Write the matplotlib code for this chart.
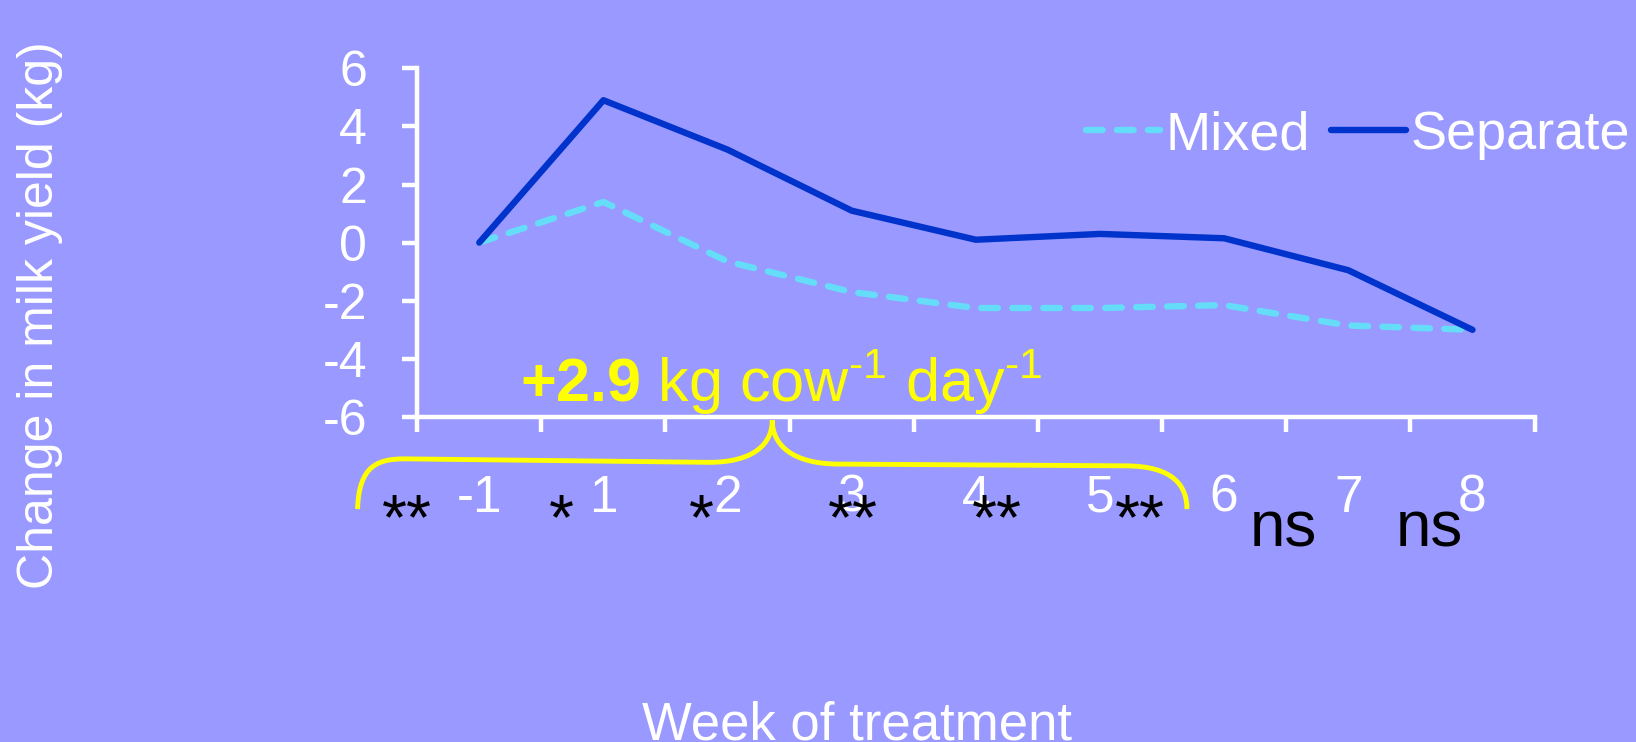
import numpy as np
import matplotlib.pyplot as plt
from matplotlib.path import Path
from matplotlib.patches import PathPatch
import matplotlib.transforms as mtransforms

# data
weeks = ["-1", "1", "2", "3", "4", "5", "6", "7", "8"]
mixed = [0.0, 1.4, -0.65, -1.7, -2.25, -2.25, -2.15, -2.85, -3.0]
separate = [0.0, 4.9, 3.2, 1.1, 0.1, 0.3, 0.15, -0.95, -3.0]
signif = ["**", "*", "*", "**", "**", "**", "ns", "ns"]

bg = "#9999FF"
plt.rcParams["font.family"] = ["Liberation Sans", "DejaVu Sans"]
plt.rcParams["mathtext.fontset"] = "custom"
plt.rcParams["mathtext.rm"] = "Liberation Sans"
plt.rcParams["mathtext.bf"] = "Liberation Sans:bold"

fig = plt.figure(figsize=(16.36, 7.42), dpi=100, facecolor=bg)
ax = fig.add_axes([0.255, 0.438, 0.683, 0.470])
ax.set_facecolor(bg)

x = np.arange(len(weeks))
ax.plot(x, mixed, color="#66DDF8", lw=4.6, linestyle=(0, (2.6, 2.25)),
        dash_capstyle="round", dash_joinstyle="round", label="Mixed")
ax.plot(x, separate, color="#0033CC", lw=4.6, solid_capstyle="round",
        solid_joinstyle="round", label="Separate")

ax.set_xlim(-0.5, len(weeks) - 0.5)
ax.set_ylim(-6, 6)
ax.set_yticks(range(-6, 7, 2))
ax.set_yticklabels([str(v) for v in range(-6, 7, 2)])
ax.set_xticks(x)
ax.set_xticklabels(weeks)
ax.set_xticks(np.arange(-0.5, len(weeks)), minor=True)

for s in ["top", "right"]:
    ax.spines[s].set_visible(False)
for s in ["left", "bottom"]:
    ax.spines[s].set_color("white")
    ax.spines[s].set_linewidth(3.2)
ax.tick_params(axis="y", colors="white", labelsize=36, length=11, width=3.2, pad=25)
ax.tick_params(axis="x", which="major", colors="white", labelsize=37, length=0, pad=41)
ax.tick_params(axis="x", which="minor", colors="white", length=11, width=3.2)

leg = ax.legend(ncol=2, frameon=False, loc="center right",
                bbox_to_anchor=(1630 / 1636, 1 - 135 / 742),
                bbox_transform=fig.transFigure, fontsize=39,
                handlelength=1.38, handletextpad=0.09, columnspacing=0.39,
                borderpad=0, borderaxespad=0)
for t in leg.get_texts():
    t.set_color("white")

fig.text(40 / 1636, 1 - 315 / 742, "Change in milk yield (kg)", rotation=90,
         ha="center", va="center", color="white", fontsize=36)
fig.text(857 / 1636, 3 / 742, "Week of treatment", ha="center",
         va="baseline", color="white", fontsize=38)

# difference annotation
ax.text(0.33, -5.5, r"$\mathbf{+2.9}$ kg cow$^{\text{-}1}$ day$^{\text{-}1}$",
        color="#FFFF00", fontsize=44, ha="left", va="baseline")

# curly brace under the axis
trans = mtransforms.blended_transform_factory(ax.transData, ax.transAxes)
verts = [(-0.98, -0.264), (-0.97, -0.14), (-0.82, -0.12), (-0.6, -0.12),
         (1.85, -0.13),
         (2.2, -0.13), (2.36, -0.08), (2.36, -0.009),
         (2.36, -0.08), (2.52, -0.135), (2.9, -0.135),
         (5.2, -0.14),
         (5.6, -0.14), (5.70, -0.2), (5.70, -0.264)]
codes = [Path.MOVETO, Path.CURVE4, Path.CURVE4, Path.CURVE4,
         Path.LINETO,
         Path.CURVE4, Path.CURVE4, Path.CURVE4,
         Path.CURVE4, Path.CURVE4, Path.CURVE4,
         Path.LINETO,
         Path.CURVE4, Path.CURVE4, Path.CURVE4]
ax.add_patch(PathPatch(Path(verts, codes), facecolor="none", edgecolor="#FFFF00",
                       lw=3.5, transform=trans, clip_on=False))

# significance marks between weeks
sig_x = [-0.58, 0.66, 1.79, 3.01, 4.17, 5.32, 6.48, 7.65]
for xs, lab in zip(sig_x, signif):
    base = 547 if lab == "ns" else 539
    ax.text(xs, -(base - 417) / 349, lab, transform=trans, ha="center",
            va="baseline", fontsize=46, color="black")

fig.savefig("out.png", dpi=100, facecolor=bg)
